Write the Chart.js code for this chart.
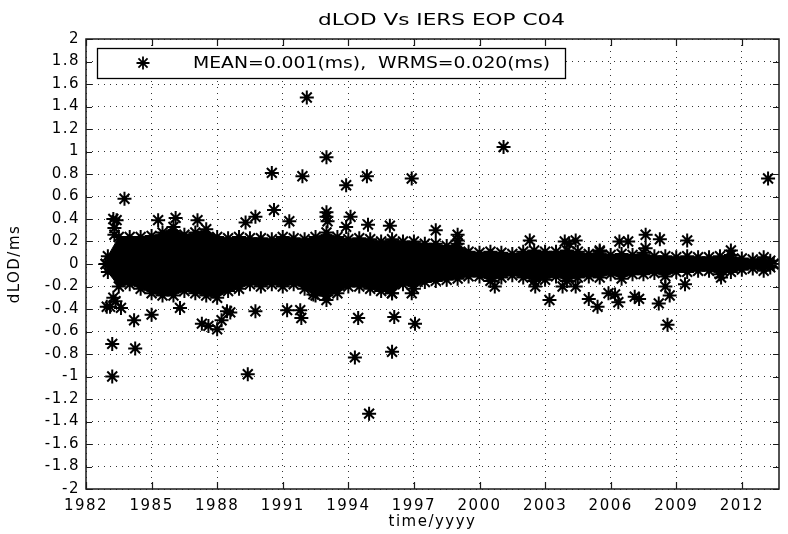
<!DOCTYPE html>
<html>
<head>
<meta charset="utf-8">
<script src="https://cdn.jsdelivr.net/npm/chart.js@4.4.1/dist/chart.umd.min.js"></script>
<style>
  html, body { margin: 0; padding: 0; background: #fff; }
  #wrap { width: 788px; height: 534px; }
</style>
</head>
<body>
<div id="wrap"><canvas id="lodChart" width="788" height="534"></canvas></div>
<script>
// tick labels
const xTicks = [1982, 1985, 1988, 1991, 1994, 1997, 2000, 2003, 2006, 2009, 2012];
const yTicks = [-2, -1.8, -1.6, -1.4, -1.2, -1, -0.8, -0.6, -0.4, -0.2, 0, 0.2, 0.4, 0.6, 0.8, 1, 1.2, 1.4, 1.6, 1.8, 2];

// dense core of the residuals: upper / lower edge of the cloud (ms)
const bandYears = [1982.9, 1983.0, 1983.5, 1984.0, 1984.5, 1985.0, 1985.5, 1986.0, 1986.5, 1987.0,
  1987.5, 1988.0, 1988.5, 1989.0, 1989.5, 1990.0, 1990.5, 1991.0, 1991.5, 1992.0,
  1992.5, 1993.0, 1993.5, 1994.0, 1994.5, 1995.0, 1995.5, 1996.0, 1996.5, 1997.0,
  1997.5, 1998.0, 1998.5, 1999.0, 1999.5, 2000.0, 2000.5, 2001.0, 2001.5, 2002.0,
  2002.5, 2003.0, 2003.5, 2004.0, 2004.5, 2005.0, 2005.5, 2006.0, 2006.5, 2007.0,
  2007.5, 2008.0, 2008.5, 2009.0, 2009.5, 2010.0, 2010.5, 2011.0, 2011.5, 2012.0,
  2012.5, 2013.0, 2013.3, 2013.45];
const bandTop = [0.0, 0.07, 0.24, 0.24, 0.24, 0.25, 0.28, 0.33, 0.26, 0.28,
  0.31, 0.24, 0.23, 0.24, 0.23, 0.23, 0.22, 0.24, 0.23, 0.22,
  0.24, 0.28, 0.24, 0.22, 0.23, 0.22, 0.20, 0.22, 0.20, 0.20,
  0.18, 0.18, 0.16, 0.18, 0.11, 0.10, 0.11, 0.10, 0.09, 0.11,
  0.12, 0.11, 0.11, 0.12, 0.11, 0.09, 0.11, 0.08, 0.09, 0.08,
  0.10, 0.07, 0.07, 0.06, 0.07, 0.06, 0.06, 0.07, 0.08, 0.05,
  0.04, 0.06, 0.03, 0.0];
const bandBottom = [0.0, -0.07, -0.20, -0.18, -0.22, -0.26, -0.28, -0.28, -0.24, -0.26,
  -0.28, -0.30, -0.24, -0.22, -0.18, -0.20, -0.18, -0.20, -0.18, -0.22,
  -0.28, -0.28, -0.26, -0.20, -0.20, -0.22, -0.24, -0.26, -0.18, -0.22,
  -0.16, -0.15, -0.14, -0.13, -0.11, -0.11, -0.15, -0.12, -0.10, -0.12,
  -0.15, -0.14, -0.11, -0.15, -0.12, -0.11, -0.12, -0.09, -0.13, -0.09,
  -0.09, -0.08, -0.11, -0.07, -0.07, -0.06, -0.06, -0.09, -0.07, -0.05,
  -0.04, -0.06, -0.03, 0.0];

// isolated points outside the core
const outYears = [1983.25, 1983.4, 1983.3, 1983.3, 1983.25, 1983.35, 1982.95, 1983.1, 1983.6, 1983.76,
  1984.2, 1983.2, 1984.25, 1983.2, 1985.0, 1985.3, 1986.1, 1986.3, 1987.1, 1987.3,
  1987.6, 1988.0, 1988.2, 1988.45, 1988.6, 1989.3, 1989.75, 1989.75, 1989.4, 1990.5,
  1990.6, 1991.3, 1991.2, 1991.8, 1991.85, 1991.9, 1992.1, 1993.0, 1993.0, 1993.0,
  1993.05, 1993.9, 1993.9, 1994.1, 1994.85, 1994.9, 1995.9, 1996.9, 1998.0, 1999.0,
  1999.0, 2001.1, 2002.3, 1992.4, 1993.0, 1994.45, 1994.3, 1994.95, 1996.1, 1996.0,
  1997.05, 1996.0, 1996.9, 2000.7, 2002.55, 2003.2, 2003.9, 2004.1, 2004.4, 2005.5,
  2006.4, 2006.8, 2007.6, 2007.6, 2008.25, 2009.5, 2011.5, 2013.2, 2005.0, 2005.4,
  2005.9, 2006.2, 2006.35, 2007.1, 2007.3, 2008.2, 2008.5, 2008.7, 2008.6, 2009.4,
  2011.05, 2003.8, 2004.4];
const outValues = [0.40, 0.39, 0.32, 0.26, -0.30, -0.33, -0.38, -0.38, -0.39, 0.58,
  -0.50, -0.71, -0.75, -1.00, -0.45, 0.39, 0.41, -0.39, 0.39, -0.53,
  -0.55, -0.58, -0.50, -0.42, -0.43, 0.37, 0.42, -0.42, -0.98, 0.81,
  0.48, 0.38, -0.41, -0.41, -0.48, 0.78, 1.48, 0.95, 0.46, 0.42,
  0.38, 0.70, 0.33, 0.42, 0.78, 0.35, 0.34, 0.76, 0.30, 0.26,
  0.21, 1.04, 0.21, -0.27, -0.32, -0.48, -0.83, -1.33, -0.47, -0.78,
  -0.53, -0.26, -0.26, -0.20, -0.20, -0.32, 0.20, 0.18, 0.21, 0.12,
  0.20, 0.20, 0.26, 0.14, 0.22, 0.21, 0.12, 0.76, -0.31, -0.38,
  -0.26, -0.27, -0.34, -0.29, -0.31, -0.35, -0.20, -0.28, -0.54, -0.18,
  -0.12, -0.20, -0.20];

const titleText = "dLOD Vs IERS EOP C04";
const legendText = "MEAN=0.001(ms),  WRMS=0.020(ms)";
const FONT = "'DejaVu Sans', 'Liberation Sans', sans-serif";

const toXY = (xs, ys) => xs.map((x, i) => ({ x: x, y: ys[i] }));

const starOpts = {
  pointStyle: "star",
  pointRadius: 7,
  pointHoverRadius: 7,
  pointBorderWidth: 2,
  pointBorderColor: "#000",
  pointBackgroundColor: "#000",
};

// stretched text, the matlab export is wider than the fonts we have
function wideText(ctx, text, left, midY, width) {
  ctx.save();
  ctx.font = "15px " + FONT;
  ctx.fillStyle = "#000";
  ctx.textBaseline = "middle";
  const w = ctx.measureText(text).width;
  ctx.translate(left, midY);
  ctx.scale(width / w, 1);
  ctx.fillText(text, 0, 0);
  ctx.restore();
}

// box, inward ticks, title and legend box like the matlab figure
const frame = {
  id: "frame",
  beforeDraw(chart) {
    chart.ctx.letterSpacing = "1.5px";
  },
  afterDraw(chart) {
    const ctx = chart.ctx;
    const a = chart.chartArea;
    const sx = chart.scales.x, sy = chart.scales.y;
    ctx.save();
    ctx.letterSpacing = "0px";
    ctx.strokeStyle = "#1a1a1a";
    ctx.lineWidth = 1.5;
    ctx.strokeRect(a.left, a.top, a.right - a.left, a.bottom - a.top);
    ctx.lineWidth = 1.2;
    ctx.beginPath();
    xTicks.forEach(v => {
      const px = Math.round(sx.getPixelForValue(v)) + 0.5;
      ctx.moveTo(px, a.bottom); ctx.lineTo(px, a.bottom - 7);
      ctx.moveTo(px, a.top); ctx.lineTo(px, a.top + 7);
    });
    yTicks.forEach(v => {
      const py = Math.round(sy.getPixelForValue(v)) + 0.5;
      ctx.moveTo(a.left, py); ctx.lineTo(a.left + 6, py);
      ctx.moveTo(a.right, py); ctx.lineTo(a.right - 6, py);
    });
    ctx.stroke();

    // title
    wideText(ctx, titleText, a.left + 232, 21, 247);

    // legend
    const bx = a.left + 11, by = a.top + 9, bw = 468, bh = 30;
    ctx.fillStyle = "#fff";
    ctx.fillRect(bx, by, bw, bh);
    ctx.strokeStyle = "#000";
    ctx.lineWidth = 1.3;
    ctx.strokeRect(bx + 0.5, by + 0.5, bw, bh);
    const cx = bx + 46, cy = by + 15, r = 6.5, d = r * 0.7;
    ctx.lineWidth = 1.8;
    ctx.beginPath();
    ctx.moveTo(cx - r, cy); ctx.lineTo(cx + r, cy);
    ctx.moveTo(cx, cy - r); ctx.lineTo(cx, cy + r);
    ctx.moveTo(cx - d, cy - d); ctx.lineTo(cx + d, cy + d);
    ctx.moveTo(cx - d, cy + d); ctx.lineTo(cx + d, cy - d);
    ctx.stroke();
    wideText(ctx, legendText, bx + 96, cy + 1, 357);
    ctx.restore();
  }
};

const ctx = document.getElementById("lodChart").getContext("2d");
const lodChart = new Chart(ctx, {
  type: "scatter",
  data: {
    datasets: [
      {
        label: "core top",
        data: toXY(bandYears, bandTop),
        showLine: true,
        borderColor: "#000",
        borderWidth: 1,
        backgroundColor: "#000",
        fill: "+1",
        ...starOpts,
      },
      {
        label: "core bottom",
        data: toXY(bandYears, bandBottom),
        showLine: true,
        borderColor: "#000",
        borderWidth: 1,
        backgroundColor: "#000",
        fill: false,
        ...starOpts,
      },
      {
        label: legendText,
        data: toXY(outYears, outValues),
        ...starOpts,
      },
    ],
  },
  options: {
    responsive: false,
    animation: false,
    layout: { padding: { left: 0, right: 1, top: 39, bottom: 0 } },
    plugins: {
      legend: { display: false },
      tooltip: { enabled: false },
    },
    scales: {
      x: {
        type: "linear",
        position: "bottom",
        min: 1982,
        max: 2013.7,
        afterFit: s => { s.height = 45; },
        afterBuildTicks: s => { s.ticks = xTicks.map(v => ({ value: v })); },
        grid: { color: "#333", lineWidth: 1, drawTicks: false, borderDash: [1, 5] },
        border: { display: false, dash: [1, 5] },
        ticks: {
          color: "#000",
          padding: 8,
          maxRotation: 0,
          font: { family: FONT, size: 15 },
          callback: v => String(v),
        },
        title: {
          display: true,
          text: "time/yyyy",
          color: "#000",
          font: { family: FONT, size: 15 },
          padding: { top: 0, bottom: 3 },
        },
      },
      y: {
        type: "linear",
        min: -2,
        max: 2,
        afterFit: s => { s.width = 86; },
        afterBuildTicks: s => { s.ticks = yTicks.map(v => ({ value: v })); },
        grid: { color: "#333", lineWidth: 1, drawTicks: false, borderDash: [1, 5] },
        border: { display: false, dash: [1, 5] },
        ticks: {
          color: "#000",
          padding: 6,
          font: { family: FONT, size: 15 },
          callback: v => {
            const r = Math.round(v * 10) / 10;
            return r === 0 ? "0" : String(r);
          },
        },
        title: {
          display: true,
          text: "dLOD/ms",
          color: "#000",
          font: { family: FONT, size: 15 },
          padding: { top: 6, bottom: 0 },
        },
      },
    },
  },
  plugins: [frame],
});
</script>
</body>
</html>
